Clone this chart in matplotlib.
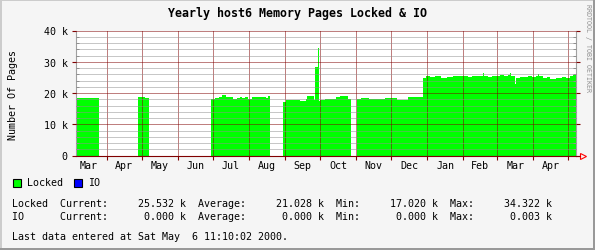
import matplotlib
matplotlib.use('Agg')
import matplotlib.pyplot as plt
from matplotlib.patches import Rectangle
import numpy as np

# x axis is in days since 1 Mar 1999
month_starts = [0, 31, 61, 92, 122, 153, 184, 214, 245, 275, 306, 337, 366, 397, 427]
month_names = ['Mar', 'Apr', 'May', 'Jun', 'Jul', 'Aug', 'Sep', 'Oct',
               'Nov', 'Dec', 'Jan', 'Feb', 'Mar', 'Apr']
x_start, x_end = 4.7, 433.7

# Locked pages (thousands), step values between edges, nan = no data
edges = [4.7, 24.4, 57.9, 63.9, 67.3,
         120.5, 123.9, 127.4, 129.9, 133.4, 137.3, 138.1, 139.4, 142.8, 145.4,
         147.1, 149.7, 152.3, 155.7, 167.7, 169.4, 171.1,
         182.3, 184.9, 196.9, 202.0, 202.9, 208.9, 209.8, 212.3, 213.2, 214.1,
         218.3, 222.6, 227.8, 231.2, 238.1, 240.6,
         245.8, 249.2, 256.1, 263.0, 269.8, 280.1, 289.6,
         302.4, 305.0, 308.4, 312.7, 317.9, 323.0, 328.2,
         334.2, 337.6, 341.0, 344.5, 347.9, 351.3, 353.9, 354.8, 358.2, 361.6,
         365.1, 368.5, 371.9, 375.4, 377.1, 377.9, 381.4, 382.2, 385.6, 389.1,
         392.5, 395.9, 399.4, 401.1, 401.9, 405.4, 408.8, 411.4, 416.5, 421.7,
         425.1, 428.6, 431.1, 433.7]
locked_k = [18.4, np.nan, 18.8, 18.4, np.nan,
            18.0, 18.4, 18.7, 19.4, 18.7, 21.0, 18.6, 18.0, 18.4, 18.7,
            18.4, 18.7, 18.2, 18.7, 18.3, 19.0, np.nan,
            17.0, 17.8, 17.4, 18.1, 19.0, 17.8, 28.3, 34.3, 17.4, 17.8,
            18.1, 18.2, 18.6, 19.0, 18.1, np.nan,
            18.2, 18.5, 18.1, 18.2, 18.5, 17.9, 18.7,
            24.7, 25.5, 25.0, 25.4, 24.9, 25.1, 25.4,
            25.4, 25.6, 25.0, 25.5, 25.3, 25.6, 26.3, 25.5, 25.0, 25.6,
            25.3, 25.7, 25.4, 25.8, 26.3, 25.6, 22.9, 24.8, 25.2, 25.0,
            25.4, 25.1, 25.5, 26.2, 25.3, 24.9, 25.2, 24.6, 24.8, 25.1,
            24.8, 25.4, 25.9]

# IO is (almost) zero wherever there is data
io_segments = [(4.7, 24.4), (57.9, 67.3), (120.5, 171.1), (182.3, 240.6), (245.8, 433.7)]
io_k = 0.0

stats_lines = [
    "Locked  Current:     25.532 k  Average:     21.028 k  Min:     17.020 k  Max:     34.322 k",
    "IO      Current:      0.000 k  Average:      0.000 k  Min:      0.000 k  Max:      0.003 k",
]
last_line = "Last data entered at Sat May  6 11:10:02 2000."

W, H = 595, 251
MAJ = '#800000'
MIN = '#909090'
plt.rcParams['font.family'] = 'DejaVu Sans Mono'
fig = plt.figure(figsize=(W / 100, H / 100), dpi=100, facecolor='#f5f5f5')


def px(x, y):
    return x / W, 1 - y / H


ax = fig.add_axes([76 / W, 1 - 156.5 / H, 500 / W, 125 / H])
ax.set_facecolor('white')

ax.stairs(locked_k, edges, fill=True, color='#00ff00', linewidth=0, zorder=1)
for a, b in io_segments:
    ax.hlines(io_k, a, b, color='#0000ff', lw=0.8, zorder=3)

ax.set_xlim(x_start, x_end)
ax.set_ylim(0, 40)

dots = dict(linestyle=(0, (1, 1)), lw=0.72)

# y grid
ax.set_yticks(range(0, 41, 10))
ax.set_yticklabels(['0', '10 k', '20 k', '30 k', '40 k'])
ax.set_yticks(np.arange(0, 41, 2), minor=True)
ax.yaxis.grid(True, which='minor', color=MIN, **dots)
ax.yaxis.grid(True, which='major', color=MAJ, **dots)

# x grid on month starts, labels in the middle of each month
starts_in = [d for d in month_starts if x_start < d < x_end]
ax.set_xticks(starts_in)
ax.set_xticklabels([''] * len(starts_in))
mids = [(month_starts[i] + month_starts[i + 1]) / 2 for i in range(len(month_names))]
ax.set_xticks(mids, minor=True)
ax.set_xticklabels(month_names, minor=True)
ax.xaxis.grid(True, which='major', color=MAJ, **dots)
ax.set_axisbelow(False)

ax.tick_params(axis='x', which='major', direction='out', length=3, color=MAJ, width=0.8)
ax.tick_params(axis='x', which='minor', length=0, pad=3, labelsize=7.2)
ax.tick_params(axis='y', which='major', direction='out', length=3, color=MAJ,
               width=0.8, labelsize=7.2, pad=3, right=True)
ax.tick_params(axis='y', which='minor', direction='in', length=2, color=MIN,
               width=0.72, right=True)

for s in ['left', 'right']:
    ax.spines[s].set_color('#a0a0a0')
    ax.spines[s].set_linewidth(0.8)
ax.spines['top'].set_visible(False)
ax.spines['bottom'].set_color(MAJ)
ax.spines['bottom'].set_linewidth(0.8)

# red arrow at the end of the x axis
ax.plot([1.0, 1.008], [0, 0], transform=ax.transAxes, color='red', lw=0.8, clip_on=False)
ax.plot([1.013], [0], marker='>', ms=5, mfc='none', mec='red', mew=0.8,
        transform=ax.transAxes, clip_on=False)

fig.text(*px(297.5, 13), 'Yearly host6 Memory Pages Locked & IO', ha='center', va='center',
         fontsize=8.4, fontweight='bold')
fig.text(*px(13, 95), 'Number Of Pages', rotation=90, ha='center', va='center', fontsize=7.2)
fig.text(*px(588, 48), 'RRDTOOL / TOBI OETIKER', rotation=270, ha='center', va='center',
         fontsize=4.8, color='#909090')

# legend
fig.add_artist(Rectangle(px(12.5, 187.5), 8 / W, 8 / H, transform=fig.transFigure,
                         facecolor='#00ff00', edgecolor='black', lw=0.8))
fig.text(*px(27, 183.5), 'Locked', ha='left', va='center', fontsize=7.2)
fig.add_artist(Rectangle(px(73.5, 187.5), 8 / W, 8 / H, transform=fig.transFigure,
                         facecolor='#0000ff', edgecolor='black', lw=0.8))
fig.text(*px(88.5, 183.5), 'IO', ha='left', va='center', fontsize=7.2)

fig.text(*px(12, 204), stats_lines[0], ha='left', va='center', fontsize=7.2)
fig.text(*px(12, 217.5), stats_lines[1], ha='left', va='center', fontsize=7.2)
fig.text(*px(12, 237), last_line, ha='left', va='center', fontsize=7.2)

# 3d-ish frame
fig.add_artist(plt.Line2D([0, 1], [1 - 1 / H, 1 - 1 / H], transform=fig.transFigure,
                          color='#cccccc', lw=1.44))
fig.add_artist(plt.Line2D([1 / W, 1 / W], [0, 1], transform=fig.transFigure,
                          color='#cccccc', lw=1.44))
fig.add_artist(plt.Line2D([0, 1], [1 / H, 1 / H], transform=fig.transFigure,
                          color='#999999', lw=1.44))
fig.add_artist(plt.Line2D([1 - 1 / W, 1 - 1 / W], [0, 1], transform=fig.transFigure,
                          color='#999999', lw=1.44))

fig.savefig('out.png', dpi=100, facecolor=fig.get_facecolor())
